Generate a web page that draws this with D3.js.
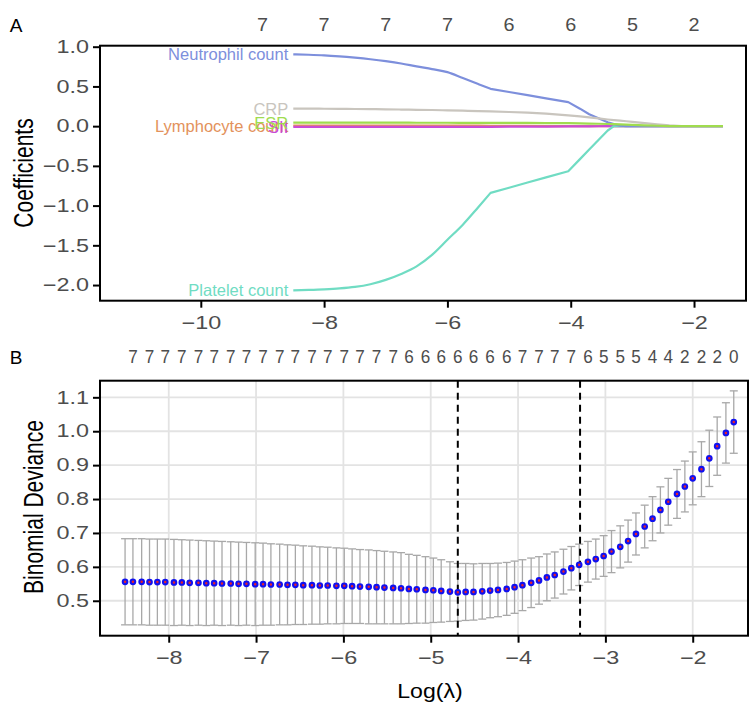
<!DOCTYPE html>
<html>
<head>
<meta charset="utf-8">
<script src="https://cdn.jsdelivr.net/npm/d3@7"></script>
<style>
  body { margin: 0; background: #fff; }
  svg text { font-family: "Liberation Sans", Arial, sans-serif; }
</style>
</head>
<body>
<div id="wrapper"></div>
<script>
// Panel A: coefficient paths
const gridA = [-8.5, -8.25, -8.0, -7.75, -7.5, -7.25, -7.0, -6.75, -6.5, -6.25, -6.0, -5.75, -5.5, -5.3,
    -5.0, -4.7, -4.4, -4.04, -3.85, -3.7, -3.55, -3.4, -3.3, -3.2, -3.1, -3.0, -2.8, -2.6, -2.4, -2.2, -2.0, -1.8, -1.53];
const neutrophil = [0.903, 0.899, 0.892, 0.879, 0.862, 0.842, 0.818, 0.789, 0.752, 0.718, 0.68, 0.605, 0.53, 0.47,
    0.43, 0.39, 0.35, 0.302, 0.22, 0.15, 0.10, 0.05, 0.025, 0.007, 0, 0, 0, 0, 0, 0, 0, 0, 0];
const platelet = [-2.066, -2.061, -2.054, -2.043, -2.024, -1.99, -1.935, -1.86, -1.765, -1.62, -1.43, -1.24, -1.02, -0.84,
    -0.775, -0.71, -0.645, -0.567, -0.415, -0.295, -0.175, -0.055, 0, 0, 0, 0, 0, 0, 0, 0, 0, 0, 0];
const crp = [0.22, 0.22, 0.219, 0.218, 0.216, 0.214, 0.212, 0.209, 0.206, 0.203, 0.199, 0.195, 0.19, 0.186,
    0.178, 0.17, 0.158, 0.136, 0.122, 0.11, 0.097, 0.084, 0.077, 0.07, 0.062, 0.054, 0.037, 0.022, 0.009, 0.001, 0, 0, 0];
const esr = [0.045, 0.045, 0.045, 0.045, 0.044, 0.044, 0.044, 0.044, 0.043, 0.043, 0.043, 0.042, 0.042, 0.041,
    0.041, 0.040, 0.039, 0.037, 0.035, 0.033, 0.030, 0.027, 0.025, 0.022, 0.019, 0.016, 0.010, 0.005, 0.001, 0, 0, 0, 0];
const lymphocyte = [0.008, 0.008, 0.008, 0.008, 0.008, 0.008, 0.007, 0.007, 0.007, 0.007, 0.006, 0.006, 0.006, 0.005,
    0.005, 0.003, 0.001, 0, 0, 0, 0, 0, 0, 0, 0, 0, 0, 0, 0, 0, 0, 0, 0];
const sii = [-0.008, -0.008, -0.008, -0.008, -0.008, -0.008, -0.008, -0.008, -0.008, -0.008, -0.008, -0.008, -0.008, -0.008,
    -0.007, -0.006, -0.005, -0.004, -0.003, -0.002, -0.001, 0, 0, 0, 0, 0, 0, 0, 0, 0, 0, 0, 0];
const seriesNames = ["Lymphocyte count", "SII", "Platelet count", "Neutrophil count", "CRP", "ESR"];
const seriesColors = ["#e3925c", "#c94bd6", "#70dcc3", "#7d8fdc", "#c9c5be", "#a0dc4e"];
const kinkIndexA = 13; // smooth part ends at log(lambda) = -5.3, straight segments after
const countTicksA = [-9, -8, -7, -6, -5, -4, -3, -2];
const countsA = [7, 7, 7, 7, 6, 6, 5, 2];
const yTicksA = [-2, -1.5, -1, -0.5, 0, 0.5, 1];
const xTicksA = [-10, -8, -6, -4, -2];

// Panel B: cross-validation curve
const logLambdaB = [-8.50, -8.41, -8.31, -8.22, -8.13, -8.04, -7.94, -7.85, -7.76, -7.66,
    -7.57, -7.48, -7.39, -7.29, -7.20, -7.11, -7.01, -6.92, -6.83, -6.73,
    -6.64, -6.55, -6.46, -6.36, -6.27, -6.18, -6.08, -5.99, -5.90, -5.81,
    -5.71, -5.62, -5.53, -5.43, -5.34, -5.25, -5.16, -5.06, -4.97, -4.88,
    -4.78, -4.69, -4.60, -4.51, -4.41, -4.32, -4.23, -4.13, -4.04, -3.95,
    -3.85, -3.76, -3.67, -3.58, -3.48, -3.39, -3.30, -3.20, -3.11, -3.02,
    -2.93, -2.83, -2.74, -2.65, -2.55, -2.46, -2.37, -2.28, -2.18, -2.09,
    -2.00, -1.90, -1.81, -1.72, -1.62, -1.53];
const cvm = [0.556, 0.556, 0.556, 0.555, 0.555, 0.555, 0.554, 0.554, 0.553, 0.553,
    0.552, 0.552, 0.551, 0.551, 0.550, 0.550, 0.549, 0.549, 0.548, 0.548,
    0.547, 0.547, 0.546, 0.546, 0.545, 0.545, 0.544, 0.544, 0.543, 0.542,
    0.541, 0.540, 0.539, 0.538, 0.537, 0.535, 0.534, 0.532, 0.531, 0.529,
    0.527, 0.525, 0.526, 0.526, 0.528, 0.530, 0.532, 0.535, 0.540, 0.546,
    0.553, 0.560, 0.569, 0.576, 0.586, 0.596, 0.606, 0.615, 0.623, 0.632,
    0.645, 0.659, 0.676, 0.697, 0.719, 0.742, 0.768, 0.792, 0.815, 0.837,
    0.861, 0.888, 0.920, 0.956, 0.995, 1.027];
const cvsd = [0.127, 0.127, 0.127, 0.127, 0.127, 0.127, 0.127, 0.126, 0.126, 0.125,
    0.125, 0.124, 0.124, 0.123, 0.123, 0.122, 0.122, 0.121, 0.120, 0.119,
    0.118, 0.117, 0.116, 0.115, 0.114, 0.113, 0.112, 0.111, 0.110, 0.109,
    0.109, 0.108, 0.107, 0.106, 0.105, 0.102, 0.100, 0.098, 0.095, 0.092,
    0.088, 0.085, 0.084, 0.083, 0.082, 0.080, 0.079, 0.078, 0.077, 0.075,
    0.073, 0.070, 0.069, 0.068, 0.066, 0.064, 0.061, 0.060, 0.059, 0.060,
    0.062, 0.062, 0.062, 0.062, 0.063, 0.065, 0.068, 0.069, 0.072, 0.075,
    0.078, 0.081, 0.083, 0.086, 0.089, 0.092];
const countsB = [7, 7, 7, 7, 7, 7, 7, 7, 7, 7, 7, 7, 7, 7, 7, 7, 7,
    6, 6, 6, 6, 6, 6, 6, 7, 7, 7, 7, 6, 5, 5, 5, 4, 4, 2, 2, 2, 0];
const yTicksB = [0.5, 0.6, 0.7, 0.8, 0.9, 1.0, 1.1];
const xTicksB = [-8, -7, -6, -5, -4, -3, -2];
const lambdaMinLog = -4.69;
const lambda1seLog = -3.29;

const drawChart = () => {
    const sx = 1.3; // text in the reference is stretched horizontally
    const tickColor = "#4d4d4d";

    const wrapper = d3.select("#wrapper")
        .append("svg")
        .attr("width", 751)
        .attr("height", 704);

    const stretchText = (sel, size) => sel
        .attr("transform", `scale(${sx},1)`)
        .style("font-size", size + "px")
        .attr("fill", tickColor);

    const label = (x, y, str, opts = {}) => wrapper.append("text")
        .attr("transform", `translate(${x},${y}) scale(${opts.sx || 1},1)` + (opts.rotate ? " rotate(-90)" : ""))
        .attr("text-anchor", opts.anchor || "middle")
        .attr("dominant-baseline", "central")
        .attr("fill", opts.color || "black")
        .style("font-size", (opts.size || 17) + "px")
        .text(str);

    // ---------- Panel A ----------
    const boxA = { left: 100, right: 746, top: 45.7, bottom: 300.7 };
    const xA = d3.scaleLinear().domain([-11.635, -1.157]).range([boxA.left, boxA.right]);
    const yA = d3.scaleLinear().domain([-2.197, 1.0126]).range([boxA.bottom, boxA.top]);

    const seriesA = [lymphocyte, sii, platelet, neutrophil, crp, esr];
    const smoothLine = d3.line()
        .x(d => xA(d[0]))
        .y(d => yA(d[1]))
        .curve(d3.curveMonotoneX);
    const straightLine = d3.line()
        .x(d => xA(d[0]))
        .y(d => yA(d[1]));
    seriesA.forEach((vals, k) => {
        const pts = vals.map((v, i) => [gridA[i], v]);
        const path = smoothLine(pts.slice(0, kinkIndexA + 1)) + straightLine(pts.slice(kinkIndexA)).replace(/^M/, "L");
        wrapper.append("path")
            .attr("d", path)
            .attr("fill", "none")
            .attr("stroke", seriesColors[k])
            .attr("stroke-width", 2.2)
            .attr("stroke-linejoin", "round");
    });
    seriesA.forEach((vals, k) => {
        label(xA(gridA[0]) - 5, yA(vals[0]), seriesNames[k], { anchor: "end", color: seriesColors[k], size: 16.5 });
    });

    wrapper.append("rect")
        .attr("x", boxA.left).attr("y", boxA.top)
        .attr("width", boxA.right - boxA.left).attr("height", boxA.bottom - boxA.top)
        .attr("fill", "none").attr("stroke", "black").attr("stroke-width", 2);

    const yAxisA = wrapper.append("g")
        .attr("transform", `translate(${boxA.left},0)`)
        .call(d3.axisLeft(yA).tickValues(yTicksA).tickFormat(d3.format(".1f")).tickSize(7).tickPadding(1.5));
    const xAxisA = wrapper.append("g")
        .attr("transform", `translate(0,${boxA.bottom})`)
        .call(d3.axisBottom(xA).tickValues(xTicksA).tickSize(7).tickPadding(8.5));
    [yAxisA, xAxisA].forEach(ax => {
        ax.select(".domain").remove();
        ax.selectAll(".tick line").attr("stroke", "black").attr("stroke-width", 2);
        ax.selectAll(".tick text").call(stretchText, 18);
    });

    countTicksA.forEach((v, i) => label(xA(v), 25, countsA[i], { color: tickColor, size: 18, sx: 1.1 }));
    label(16, 25, "A", { size: 19 });
    label(23, 173, "Coefficients", { size: 21, sx: sx, rotate: true });

    // ---------- Panel B ----------
    const boxB = { left: 100, right: 748, top: 380.7, bottom: 635.7 };
    const xB = d3.scaleLinear().domain([-8.787, -1.367]).range([boxB.left, boxB.right]);
    const yB = d3.scaleLinear().domain([0.397, 1.149]).range([boxB.bottom, boxB.top]);

    const gridB = wrapper.append("g");
    xTicksB.forEach(v => {
        gridB.append("line")
            .attr("x1", xB(v)).attr("x2", xB(v))
            .attr("y1", boxB.top).attr("y2", boxB.bottom);
    });
    yTicksB.forEach(v => {
        gridB.append("line")
            .attr("x1", boxB.left).attr("x2", boxB.right)
            .attr("y1", yB(v)).attr("y2", yB(v));
    });
    gridB.selectAll("line").attr("stroke", "#e3e3e3").attr("stroke-width", 1.8);

    // error bars
    const bars = wrapper.append("g")
        .attr("stroke", "#a8a8a8")
        .attr("stroke-width", 1.3)
        .selectAll("g").data(logLambdaB).join("g");
    bars.append("line")
        .attr("x1", d => xB(d)).attr("x2", d => xB(d))
        .attr("y1", (d, i) => yB(cvm[i] - cvsd[i]))
        .attr("y2", (d, i) => yB(cvm[i] + cvsd[i]));
    bars.append("line")
        .attr("x1", d => xB(d) - 4).attr("x2", d => xB(d) + 4)
        .attr("y1", (d, i) => yB(cvm[i] + cvsd[i]))
        .attr("y2", (d, i) => yB(cvm[i] + cvsd[i]));
    bars.append("line")
        .attr("x1", d => xB(d) - 4).attr("x2", d => xB(d) + 4)
        .attr("y1", (d, i) => yB(cvm[i] - cvsd[i]))
        .attr("y2", (d, i) => yB(cvm[i] - cvsd[i]));

    // lambda.min / lambda.1se
    [lambdaMinLog, lambda1seLog].forEach(v => {
        wrapper.append("line")
            .attr("x1", xB(v)).attr("x2", xB(v))
            .attr("y1", boxB.top).attr("y2", boxB.bottom)
            .attr("stroke", "black")
            .attr("stroke-width", 2)
            .attr("stroke-dasharray", "7,5");
    });

    wrapper.append("g")
        .selectAll("circle").data(logLambdaB).join("circle")
        .attr("cx", d => xB(d))
        .attr("cy", (d, i) => yB(cvm[i]))
        .attr("r", 2.3)
        .attr("fill", "#e8202a")
        .attr("stroke", "#1010f0")
        .attr("stroke-width", 2.1);

    wrapper.append("rect")
        .attr("x", boxB.left).attr("y", boxB.top)
        .attr("width", boxB.right - boxB.left).attr("height", boxB.bottom - boxB.top)
        .attr("fill", "none").attr("stroke", "black").attr("stroke-width", 2);

    const yAxisB = wrapper.append("g")
        .attr("transform", `translate(${boxB.left},0)`)
        .call(d3.axisLeft(yB).tickValues(yTicksB).tickFormat(d3.format(".1f")).tickSize(7).tickPadding(1.5));
    const xAxisB = wrapper.append("g")
        .attr("transform", `translate(0,${boxB.bottom})`)
        .call(d3.axisBottom(xB).tickValues(xTicksB).tickFormat(d3.format("d")).tickSize(7).tickPadding(8.5));
    [yAxisB, xAxisB].forEach(ax => {
        ax.select(".domain").remove();
        ax.selectAll(".tick line").attr("stroke", "black").attr("stroke-width", 2);
        ax.selectAll(".tick text").call(stretchText, 18);
    });

    // number of nonzero coefficients, every second lambda from the right
    countsB.forEach((c, j) => {
        label(xB(logLambdaB[2 * j + 1]), 357, c, { color: tickColor, size: 19, sx: 0.9 });
    });
    label(16, 357, "B", { size: 19 });
    label(33, 507, "Binomial Deviance", { size: 21, sx: sx, rotate: true });
    label(430, 691, "Log(\u03bb)", { size: 21, sx: 1.1 });
};
drawChart();
</script>
</body>
</html>
